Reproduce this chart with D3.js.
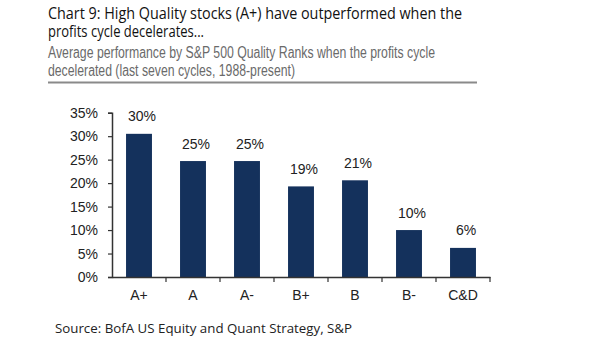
<!DOCTYPE html>
<html><head><meta charset="utf-8">
<script src="https://cdn.jsdelivr.net/npm/d3@7"></script>
<style>html,body{margin:0;padding:0;background:#fff;}svg{display:block;}</style>
</head><body>
<script>
const categories = ["A+", "A", "A-", "B+", "B", "B-", "C&D"];
const values = [30.5, 24.7, 24.7, 19.3, 20.6, 10.0, 6.2];
const valueLabels = ["30%", "25%", "25%", "19%", "21%", "10%", "6%"];
const yTicks = [0, 5, 10, 15, 20, 25, 30, 35];
const titleLines = ["Chart 9: High Quality stocks (A+) have outperformed when the", "profits cycle decelerates..."];
const subtitleLines = ["Average performance by S&P 500 Quality Ranks when the profits cycle", "decelerated (last seven cycles, 1988-present)"];
const sourceText = "Source: BofA US Equity and Quant Strategy, S&P";

const W = 605, H = 341;
const svg = d3.select("body").append("svg").attr("width", W).attr("height", H);

// Title
const titleWidths = [414, 156];
svg.selectAll("text.title").data(titleLines).join("text")
  .attr("class", "title")
  .attr("x", 48).attr("y", (d, i) => 19 + i * 17.5)
  .attr("font-family", "'Open Sans', sans-serif").attr("font-size", 16)
  .attr("fill", "#111")
  .attr("textLength", (d, i) => titleWidths[i]).attr("lengthAdjust", "spacingAndGlyphs")
  .text(d => d);

const subWidths = [387, 247];
svg.selectAll("text.sub").data(subtitleLines).join("text")
  .attr("class", "sub")
  .attr("x", 48).attr("y", (d, i) => 58 + i * 18)
  .attr("font-family", "'Liberation Sans', Arial, sans-serif").attr("font-size", 16)
  .attr("fill", "#6a6a6a")
  .attr("textLength", (d, i) => subWidths[i]).attr("lengthAdjust", "spacingAndGlyphs")
  .text(d => d);

svg.append("line").attr("x1", 48).attr("x2", 477).attr("y1", 82.5).attr("y2", 82.5)
  .attr("stroke", "#8a8a8a").attr("stroke-width", 2);

// Scales
const x = d3.scaleBand().domain(categories).range([112, 490]).paddingInner(0.52).paddingOuter(0.26);
const y = d3.scaleLinear().domain([0, 35]).range([277, 112.7]);

// Bars
svg.selectAll("rect.bar").data(values).join("rect")
  .attr("class", "bar")
  .attr("x", (d, i) => x(categories[i]))
  .attr("width", x.bandwidth())
  .attr("y", d => y(d))
  .attr("height", d => y(0) - y(d))
  .attr("fill", "#14315c");

// Value labels
svg.selectAll("text.val").data(values).join("text")
  .attr("class", "val")
  .attr("x", (d, i) => x(categories[i]) + x.bandwidth() / 2 + 3)
  .attr("y", d => y(d) - 12.5)
  .attr("text-anchor", "middle")
  .attr("font-family", "'Liberation Sans', Arial, sans-serif").attr("font-size", 14)
  .attr("fill", "#222")
  .text((d, i) => valueLabels[i]);

// Y axis
const yAxis = d3.axisLeft(y).tickValues(yTicks).tickFormat(d => d + "%").tickSize(4).tickPadding(10);
const gy = svg.append("g").attr("transform", "translate(112,0)").call(yAxis);
gy.select(".domain").attr("stroke", "#333").attr("stroke-width", 1.5);
gy.selectAll(".tick line").attr("stroke", "#333").attr("stroke-width", 1.2);
gy.selectAll(".tick text").attr("font-family", "'Liberation Sans', Arial, sans-serif")
  .attr("font-size", 14).attr("fill", "#222");

// X axis
const xAxis = d3.axisBottom(x).tickSize(0).tickPadding(13);
const gx = svg.append("g").attr("transform", `translate(0,${y(0)})`).call(xAxis);
gx.select(".domain").attr("stroke", "#333").attr("stroke-width", 1.5);
gx.selectAll(".tick text").attr("font-family", "'Liberation Sans', Arial, sans-serif")
  .attr("font-size", 14).attr("fill", "#222");
// boundary tick marks between categories
const bounds = categories.map((c, i) => x.range()[0] + i * x.step());
bounds.push(x.range()[1]);
gx.selectAll("line.btick").data(bounds.slice(1)).join("line")
  .attr("class", "btick")
  .attr("x1", d => d).attr("x2", d => d).attr("y1", 0).attr("y2", 5)
  .attr("stroke", "#333").attr("stroke-width", 1.2);

// Source
svg.append("text").attr("x", 55).attr("y", 333)
  .attr("font-family", "'Open Sans', sans-serif").attr("font-size", 13.5)
  .attr("fill", "#222")
  .attr("textLength", 297).attr("lengthAdjust", "spacingAndGlyphs")
  .text(sourceText);
</script>
</body></html>
